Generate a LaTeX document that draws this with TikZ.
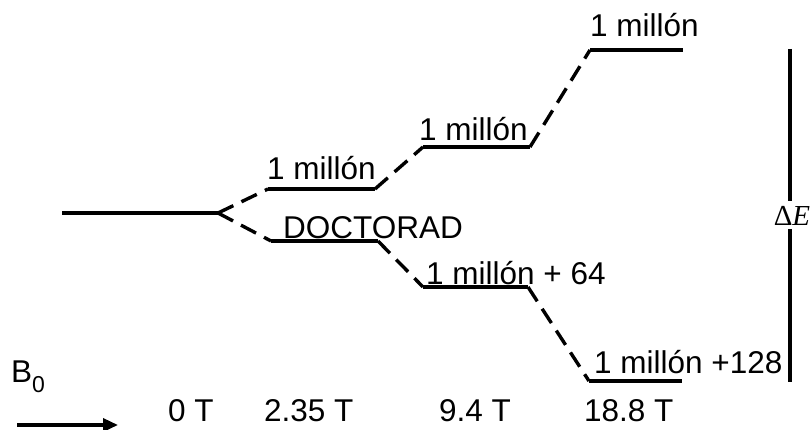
\documentclass[tikz,border=0pt]{standalone}
\usepackage{fontspec}
\setmainfont{Liberation Sans}
\newfontfamily\serifdelta{Liberation Serif}
\usetikzlibrary{arrows.meta}
\begin{document}
\begin{tikzpicture}[x=1pt,y=-1pt,
  level/.style={line width=3.4pt},
  split/.style={line width=3.4pt,dash pattern=on 17pt off 9pt},
  lbl/.style={anchor=base west,inner sep=0pt,font=\fontsize{31.5}{36}\selectfont}]
\useasboundingbox (0,0) rectangle (812,430);

% energy level end points
\coordinate (l0w) at (62,213);  \coordinate (l0e) at (218,213);
\coordinate (u1w) at (268,189); \coordinate (u1e) at (375,189);
\coordinate (d1w) at (271,241); \coordinate (d1e) at (378,241);
\coordinate (u2w) at (423,147); \coordinate (u2e) at (530,147);
\coordinate (d2w) at (423,287); \coordinate (d2e) at (528,287);
\coordinate (u3w) at (590,50);  \coordinate (u3e) at (683,50);
\coordinate (d3w) at (589,381); \coordinate (d3e) at (682,381);

% levels
\draw[level] (l0w) -- (l0e);
\draw[level] (u1w) -- (u1e);
\draw[level] (d1w) -- (d1e);
\draw[level] (u2w) -- (u2e);
\draw[level] (d2w) -- (d2e);
\draw[level] (u3w) -- (u3e);
\draw[level] (d3w) -- (d3e);

% splitting connectors
\draw[split] (l0e) -- (u1w);
\draw[split] (l0e) -- (d1w);
\draw[split] (u1e) -- (u2w);
\draw[split] (u2e) -- (u3w);
\draw[split] (d1e) -- (d2w);
\draw[split] (d2e) -- (d3w);

% population labels
\node[lbl] (t1u) at (267,180) {1 millón};
\node[lbl] (t1d) at (283,239) {DOCTORAD};
\node[lbl] (t2u) at (419,141) {1 millón};
\node[lbl] (t3u) at (590,37)  {1 millón};
\node[lbl] (t2d) at (426,285) {1 millón + 64};
\node[lbl] (t3d) at (594,374) {1 millón +128};

% field strengths
\node[lbl] (f0) at (168,422) {0 T};
\node[lbl] (f1) at (264,422) {2.35 T};
\node[lbl] (f2) at (439,422) {9.4 T};
\node[lbl] (f3) at (584,422) {18.8 T};

% field arrow
\node[lbl] (b0) at (11,383) {B\raisebox{-0.3em}{\fontsize{23}{26}\selectfont 0}};
\coordinate (aw) at (17,425);
\coordinate (ae) at (118,425);
\draw[line width=3.4pt,-{Triangle[length=15pt,width=13pt]}] (aw) -- (ae);

% energy span
\node[inner sep=0pt,font=\fontsize{29}{32}\selectfont] (de) at (792,216) {\serifdelta Δ\itshape E};
\coordinate (dtop) at (790,49);
\coordinate (dbot) at (790,382);
\draw[line width=3.4pt] (dtop) -- (790,201);
\draw[line width=3.4pt] (790,229) -- (dbot);
\end{tikzpicture}
\end{document}
